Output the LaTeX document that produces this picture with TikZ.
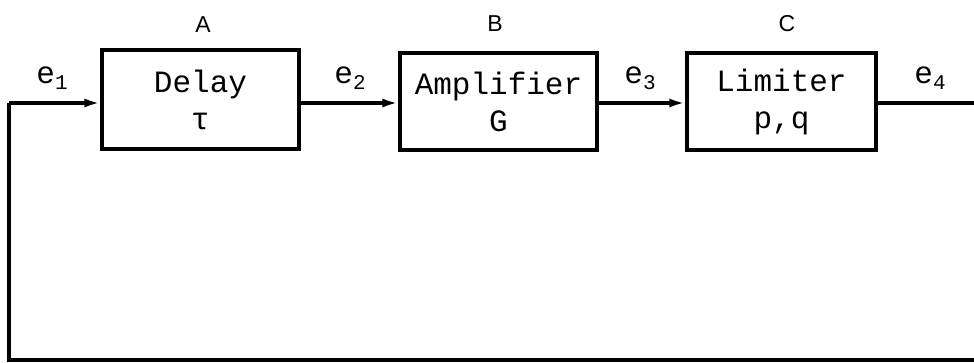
\documentclass[tikz,border=0pt]{standalone}
\usepackage{fontspec}
\setmainfont{Liberation Mono}
\newfontfamily\labfont{Liberation Sans}
\usetikzlibrary{arrows.meta}
\newcommand{\esub}[1]{e\raisebox{-6pt}{\fontsize{21}{21}\selectfont #1}}
\tikzset{
  blk/.style={draw, line width=3.2pt, inner sep=0pt, align=center,
    font=\fontsize{31}{35}\selectfont},
  wire/.style={line width=3.2pt},
  arr/.style={wire, -{Latex[length=16pt,width=9pt]}},
  sig/.style={font=\fontsize{31}{31}\selectfont, inner sep=0pt},
  tag/.style={font=\labfont\fontsize{23}{23}\selectfont, inner sep=0pt}
}
\begin{document}
\begin{tikzpicture}[x=1pt,y=-1pt]
\useasboundingbox (0,0) rectangle (974,363);
\node[blk, minimum width=197pt, minimum height=99pt] (A) at (200.5,99.5) {Delay\\[2pt]τ};
\node[blk, minimum width=197pt, minimum height=97pt] (B) at (498.5,101.5) {Amplifier\\[2pt]G};
\node[blk, minimum width=189pt, minimum height=97pt] (C) at (781.5,101.5) {Limiter\\[2pt]p,q};
\node[tag] (lA) at (203,25) {A};
\node[tag] (lB) at (495,24) {B};
\node[tag] (lC) at (787,24) {C};
\node[sig] (e1) at (52,78) {\esub{1}};
\node[sig] (e2) at (350,78) {\esub{2}};
\node[sig] (e3) at (640,78) {\esub{3}};
\node[sig] (e4) at (930,78) {\esub{4}};
\coordinate (tl) at (9,103);
\coordinate (bl) at (9,360);
\coordinate (br) at (974,360);
\coordinate (out) at (974,103);
\draw[wire] (br) -- (bl) -- (tl);
\draw[arr] (tl) -- (tl -| A.west);
\draw[arr] (A.east |- tl) -- (B.west |- tl);
\draw[arr] (B.east |- tl) -- (C.west |- tl);
\draw[wire] (C.east |- tl) -- (out);
\end{tikzpicture}
\end{document}
